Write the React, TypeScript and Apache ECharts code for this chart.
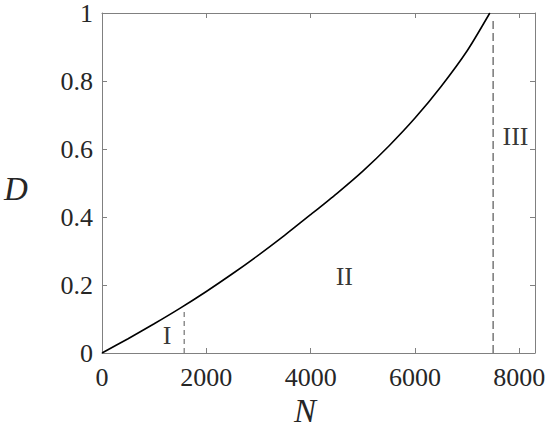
import React, { useEffect, useRef } from "react";
import * as echarts from "echarts";

const nValues = [0, 500, 1000, 1500, 2000, 2500, 3000, 3500, 4000, 4500, 5000, 5500, 6000, 6500, 7000, 7434];
const dValues = [0, 0.042, 0.086, 0.132, 0.181, 0.233, 0.288, 0.346, 0.407, 0.469, 0.535, 0.609, 0.691, 0.784, 0.889, 1.0];

const boundaryI = { n: 1575, dTop: 0.124 };
const boundaryIII = { n: 7497, dTop: 0.985 };

const regionLabels = ["I", "II", "III"];
const regionN = [1248, 4645, 7927];
const regionD = [0.051, 0.224, 0.637];

const xTicks = { min: 0, max: 8300, interval: 2000 };
const yTicks = { min: 0, max: 1, interval: 0.2 };

const FONT = "Liberation Serif";
const AXIS_COLOR = "#808080";
const TEXT_COLOR = "#262626";

export default function App() {
  const ref = useRef<HTMLDivElement>(null);
  useEffect(() => {
    if (!ref.current) return;
    const chart = echarts.init(ref.current, null, { renderer: "svg" });
    const axisLineStyle = { lineStyle: { color: AXIS_COLOR, width: 1 } };
    const tick = { inside: true, length: 5, lineStyle: { color: AXIS_COLOR } };
    const curve = nValues.map((n, i) => [n, dValues[i]]);
    chart.setOption({
      animation: false,
      backgroundColor: "#ffffff",
      grid: { left: 102, top: 13, right: 15, bottom: 74, containLabel: false },
      xAxis: [
        {
          type: "value",
          min: xTicks.min,
          max: xTicks.max,
          interval: xTicks.interval,
          position: "bottom",
          axisLine: { show: true, onZero: false, ...axisLineStyle },
          axisTick: tick,
          splitLine: { show: false },
          axisLabel: {
            showMaxLabel: false,
            color: TEXT_COLOR,
            fontFamily: FONT,
            fontSize: 26,
            margin: 11,
            formatter: (v: number) => String(v),
          },
        },
        {
          type: "value",
          min: xTicks.min,
          max: xTicks.max,
          interval: xTicks.interval,
          position: "top",
          axisLine: { show: true, onZero: false, ...axisLineStyle },
          axisTick: tick,
          splitLine: { show: false },
          axisLabel: { show: false },
        },
      ],
      yAxis: [
        {
          type: "value",
          min: yTicks.min,
          max: yTicks.max,
          interval: yTicks.interval,
          position: "left",
          axisLine: { show: true, onZero: false, ...axisLineStyle },
          axisTick: tick,
          splitLine: { show: false },
          axisLabel: {
            color: TEXT_COLOR,
            fontFamily: FONT,
            fontSize: 26,
            margin: 9,
            formatter: (v: number) => (v === 0 ? "0" : v === 1 ? "1" : String(Math.round(v * 10) / 10)),
          },
        },
        {
          type: "value",
          min: yTicks.min,
          max: yTicks.max,
          interval: yTicks.interval,
          position: "right",
          axisLine: { show: true, onZero: false, ...axisLineStyle },
          axisTick: tick,
          splitLine: { show: false },
          axisLabel: { show: false },
        },
      ],
      series: [
        {
          type: "line",
          data: curve,
          smooth: 0.25,
          showSymbol: false,
          symbol: "none",
          lineStyle: { color: "#000000", width: 1.6 },
          z: 5,
        },
        {
          type: "line",
          data: [
            [boundaryI.n, 0],
            [boundaryI.n, boundaryI.dTop],
          ],
          symbol: "none",
          lineStyle: { color: "#555555", width: 1, type: [5, 4] },
        },
        {
          type: "line",
          data: [
            [boundaryIII.n, 0],
            [boundaryIII.n, boundaryIII.dTop],
          ],
          symbol: "none",
          lineStyle: { color: "#333333", width: 1, type: [8, 4] },
        },
        {
          type: "scatter",
          symbolSize: 0,
          data: regionLabels.map((t, i) => ({ value: [regionN[i], regionD[i]], name: t })),
          label: {
            show: true,
            position: "inside",
            formatter: (p: any) => p.name,
            color: "#000000",
            fontFamily: FONT,
            fontSize: 26,
          },
          silent: true,
        },
      ],
      graphic: [
        {
          type: "text",
          left: 4,
          top: 172,
          style: {
            text: "D",
            fontFamily: FONT,
            fontStyle: "italic",
            fontSize: 33,
            fill: TEXT_COLOR,
          },
        },
        {
          type: "text",
          left: 294,
          top: 394,
          style: {
            text: "N",
            fontFamily: FONT,
            fontStyle: "italic",
            fontSize: 33,
            fill: TEXT_COLOR,
          },
        },
      ],
    });
    return () => chart.dispose();
  }, []);
  return <div ref={ref} style={{ width: 550, height: 427, position: "absolute", left: 0, top: 0 }} />;
}
